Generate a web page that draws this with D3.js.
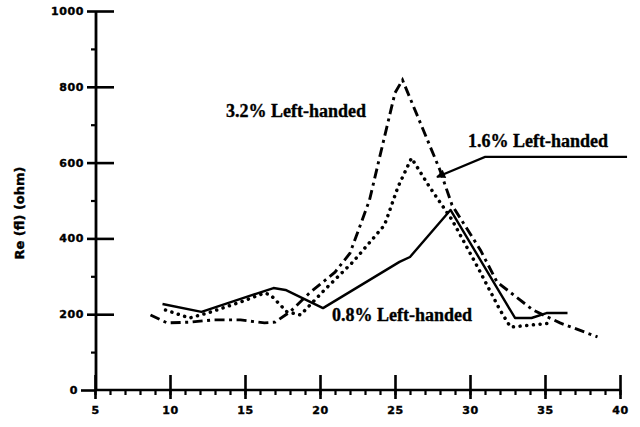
<!DOCTYPE html>
<html>
<head>
<meta charset="utf-8">
<script src="https://cdn.jsdelivr.net/npm/d3@7/dist/d3.min.js"></script>
<style>
  html, body { margin: 0; padding: 0; background: #fff; }
  svg { display: block; }
  .tick text { font-family: "DejaVu Sans", sans-serif; font-weight: bold; font-size: 11px; fill: #000; stroke: #000; stroke-width: 0.4px; letter-spacing: 0.6px; }
  .note { font-family: "Liberation Serif", serif; font-weight: bold; font-size: 18px; fill: #000; stroke: #000; stroke-width: 0.35px; }
</style>
</head>
<body>
<svg id="chart" width="640" height="427"></svg>
<script>
// Frequency axis (x) and resistance (y) tick values
const xMajorTicks = [5, 10, 15, 20, 25, 30, 35, 40];
const xMinorTicks = d3.range(5, 41, 1);
const yMajorTicks = [0, 200, 400, 600, 800, 1000];
const yMinorTicks = [100, 300, 500, 700, 900];

// 0.8% left-handed (solid)
const lh08X = [9.5, 12.1, 16.9, 17.7, 20.2, 25.3, 26.0, 28.7, 33.0, 34.1, 35.1, 36.5];
const lh08Y = [227, 206, 269, 264, 216, 338, 351, 475, 190, 190, 203, 203];

// 1.6% left-handed (dotted)
const lh16X = [9.7, 11.3, 12.5, 14.7, 16.3, 16.7, 17.8, 18.7, 20.3, 22.2, 24.3, 25.2, 26.1, 27.3, 28.8, 30.5, 32.0, 32.7, 35.5];
const lh16Y = [211, 190, 203, 232, 256, 251, 206, 198, 264, 338, 435, 536, 612, 536, 449, 325, 211, 166, 177];

// 3.2% left-handed (dash-dot)
const lh32X = [8.7, 9.8, 11.3, 12.9, 14.7, 16.3, 17.0, 18.0, 19.3, 21.0, 22.0, 23.3, 24.3, 25.0, 25.5, 28.0, 28.8, 30.7, 31.8, 34.2, 36.0, 38.5];
const lh32Y = [198, 177, 179, 185, 185, 177, 179, 206, 256, 311, 361, 501, 668, 784, 818, 580, 488, 369, 285, 211, 177, 140];

const seriesLabels = ["0.8% Left-handed", "1.6% Left-handed", "3.2% Left-handed"];

const svg = d3.select("#chart");
const x = d3.scaleLinear().domain([5, 40]).range([95, 620]);
const y = d3.scaleLinear().domain([0, 1000]).range([390, 11]);

// ---- axes ----
const xAxis = svg.append("g").attr("transform", `translate(0,${y(0)})`)
  .call(d3.axisBottom(x).tickValues(xMajorTicks).tickSize(8).tickPadding(12).tickFormat(d3.format("d")));
xAxis.select(".domain").attr("stroke-width", 2.6).attr("d", `M${x(5)},0H${x(40)}`);
xAxis.selectAll(".tick line").attr("y1", -15).attr("y2", 9).attr("stroke-width", 2.6);
xAxis.selectAll(".tick text").attr("dy", "0.4em");

const xMinor = svg.append("g").attr("transform", `translate(0,${y(0)})`)
  .call(d3.axisBottom(x).tickValues(xMinorTicks).tickSize(5).tickFormat(""));
xMinor.select(".domain").remove();
xMinor.selectAll(".tick line").attr("stroke-width", 2.2);

const yAxis = svg.append("g").attr("transform", `translate(${x(5) + 1},0)`)
  .call(d3.axisLeft(y).tickValues(yMajorTicks).tickSize(8).tickPadding(4).tickFormat(d3.format("d")));
yAxis.select(".domain").attr("stroke-width", 2.8).attr("d", `M0,${y(0)}V${y(1000)}`);
yAxis.selectAll(".tick line").attr("x1", 18).attr("x2", -9).attr("stroke-width", 2.6);
yAxis.selectAll(".tick").filter(d => d === 0).select("line").attr("x1", 0).attr("x2", -15);
yAxis.selectAll(".tick").filter(d => d === 0).select("text").attr("x", -18);

const yMinor = svg.append("g").attr("transform", `translate(${x(5) + 1},0)`)
  .call(d3.axisLeft(y).tickValues(yMinorTicks).tickSize(5).tickFormat(""));
yMinor.select(".domain").remove();
yMinor.selectAll(".tick line").attr("stroke-width", 2.2);

// y axis title
svg.append("text")
  .attr("transform", "translate(24,213) rotate(-90)")
  .attr("text-anchor", "middle")
  .style("font-family", "DejaVu Sans, sans-serif")
  .style("font-weight", "bold")
  .style("font-size", "13px")
  .style("stroke", "#000")
  .style("stroke-width", "0.4px")
  .text("Re (fl) (ohm)");

// ---- curves ----
const line = d3.line().x(d => x(d[0])).y(d => y(d[1])).curve(d3.curveLinear);
const zipXY = (xs, ys) => xs.map((v, i) => [v, ys[i]]);

svg.append("path").datum(zipXY(lh08X, lh08Y))
  .attr("d", line).attr("fill", "none").attr("stroke", "#000")
  .attr("stroke-width", 2.4).attr("stroke-linejoin", "round");

svg.append("path").datum(zipXY(lh16X, lh16Y))
  .attr("d", line).attr("fill", "none").attr("stroke", "#000")
  .attr("stroke-width", 3.5).attr("stroke-linecap", "round")
  .attr("stroke-dasharray", "0.1 6.6");

svg.append("path").datum(zipXY(lh32X, lh32Y))
  .attr("d", line).attr("fill", "none").attr("stroke", "#000")
  .attr("stroke-width", 2.9)
  .attr("stroke-dasharray", "10 4.5 3 4.5");

// ---- annotations ----
svg.append("defs").append("marker")
  .attr("id", "arrow").attr("viewBox", "0 0 10 10")
  .attr("refX", 9).attr("refY", 5)
  .attr("markerWidth", 11).attr("markerHeight", 9)
  .attr("markerUnits", "userSpaceOnUse")
  .attr("orient", "auto")
  .append("path").attr("d", "M0,0L10,5L0,10Z").attr("fill", "#000");

svg.append("text").attr("class", "note")
  .attr("x", x(13.73)).attr("y", y(720)).text(seriesLabels[2]);

svg.append("text").attr("class", "note")
  .attr("x", x(29.87)).attr("y", y(641)).text(seriesLabels[1]);

svg.append("path")
  .attr("d", `M${x(40.47)},${y(615)}H${x(31.0)}L${x(27.8)},${y(562)}`)
  .attr("fill", "none").attr("stroke", "#000").attr("stroke-width", 2.2)
  .attr("marker-end", "url(#arrow)");

svg.append("text").attr("class", "note")
  .attr("x", x(20.8)).attr("y", y(182)).text(seriesLabels[0]);
</script>
</body>
</html>
